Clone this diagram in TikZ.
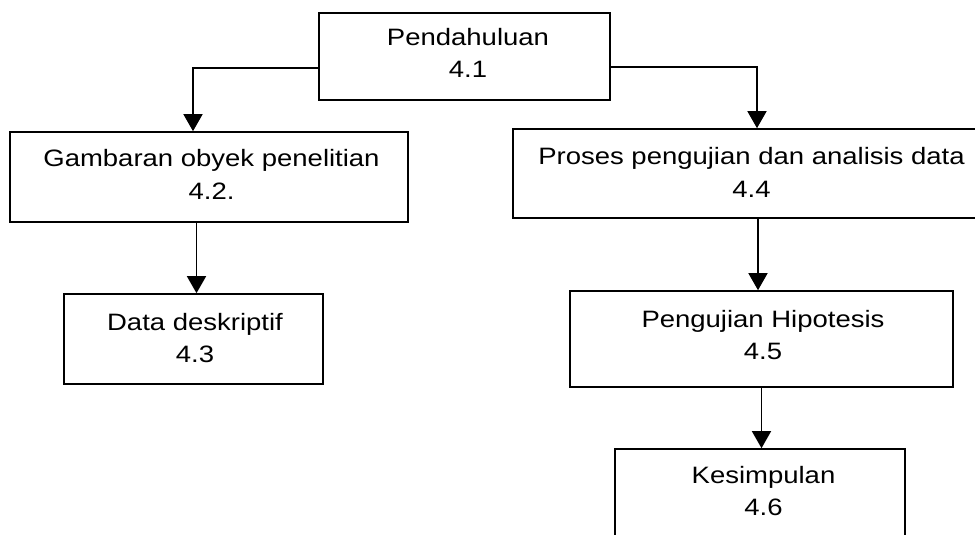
\documentclass[tikz,border=0pt]{standalone}
\usepackage{fontspec}
\setmainfont[FakeStretch=1.16]{Liberation Sans}
\usetikzlibrary{arrows.meta}
\begin{document}
\begin{tikzpicture}[x=1pt,y=-1pt,
  box/.style={draw=black,line width=1.6pt,rectangle,inner sep=0pt},
  txt/.style={align=center,inner sep=0pt,font=\fontsize{23.7pt}{32.5pt}\selectfont},
  arr/.style={draw=black,line width=1.5pt,-{Triangle[length=17pt,width=19pt]}}]
\useasboundingbox (0,0) rectangle (975,535);
% boxes
\node[box,minimum width=291pt,minimum height=87pt] (A) at (464.5,56.5) {};
\node[box,minimum width=398pt,minimum height=90pt] (B) at (209,177) {};
\node[box,minimum width=259pt,minimum height=90pt] (C) at (193.5,339) {};
\node[box,minimum width=477pt,minimum height=89pt] (D) at (751.5,173.5) {};
\node[box,minimum width=383pt,minimum height=96pt] (E) at (761.5,339) {};
\node[box,minimum width=290pt,minimum height=111pt] (F) at (760,504.5) {};
% texts
\node[txt] (tA) at (468,53) {Pendahuluan\\4.1};
\node[txt] (tB) at (211.5,174.5) {Gambaran obyek penelitian\\4.2.};
\node[txt] (tC) at (195,338) {Data deskriptif\\4.3};
\node[txt] (tD) at (751.5,172.5) {Proses pengujian dan analisis data\\4.4};
\node[txt] (tE) at (763,335) {Pengujian Hipotesis\\4.5};
\node[txt] (tF) at (763.5,491) {Kesimpulan\\4.6};
% connectors
\draw[arr] ([yshift=-11.5pt]A.west) -| ([xshift=-16pt]B.north);
\draw[arr] ([yshift=-10.5pt]A.east) -| ([xshift=5.5pt]D.north);
\draw[arr] ([xshift=3pt]C.north |- B.south) -- ([xshift=3pt]C.north);
\draw[arr] ([xshift=-3.5pt]E.north |- D.south) -- ([xshift=-3.5pt]E.north);
\draw[arr] (E.south) -- (E.south |- F.north);
\end{tikzpicture}
\end{document}
